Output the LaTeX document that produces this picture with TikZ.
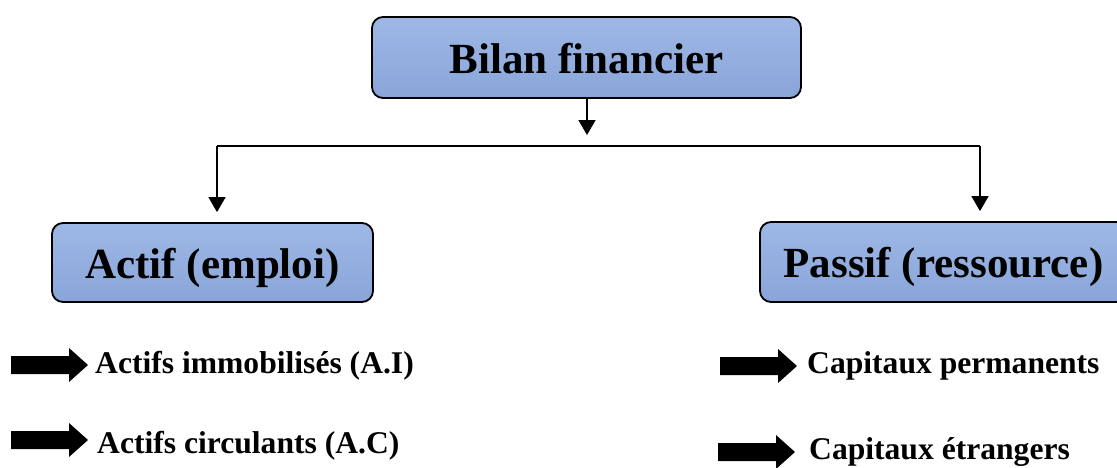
\documentclass[tikz,border=0pt]{standalone}
\usepackage{fontspec}
\setmainfont{Liberation Serif}
\usetikzlibrary{arrows.meta}
\definecolor{boxtop}{RGB}{158,184,229}
\definecolor{boxbot}{RGB}{137,165,217}
\tikzset{
  panel/.style={draw=black, line width=1.8pt, rounded corners=11pt,
    top color=boxtop, bottom color=boxbot, inner sep=0pt,
    font=\fontsize{43}{50}\selectfont\bfseries,
    text height=40pt, text depth=9pt},
  link/.style={line width=1.6pt, -{Triangle[width=17pt,length=15pt]}},
  bar/.style={line width=1.4pt},
  item/.style={anchor=base west, inner sep=0pt,
    font=\fontsize{31.6}{38}\selectfont\bfseries},
  bularrow/.pic={\fill (0,-9) -- (58,-9) -- (58,-17) -- (77,0) -- (58,17)
    -- (58,9) -- (0,9) -- cycle;}
}
\begin{document}
\begin{tikzpicture}[x=1pt,y=-1pt]
  \useasboundingbox (0,0) rectangle (1117,467);
  \clip (0,0) rectangle (1117,467);

  % main boxes
  \node[panel, minimum width=429pt, minimum height=81pt] (bilan) at (586.5,57.5) {Bilan financier};
  \node[panel, minimum width=321pt, minimum height=79pt] (actif) at (212.5,262.5) {Actif (emploi)};
  \node[panel, minimum width=367pt, minimum height=80pt] (passif) at (943.5,262) {Passif (ressource)};

  % connectors
  \coordinate (drop) at (587,135);
  \coordinate (jl) at (217,146);
  \coordinate (jr) at (980,146);
  \draw[link] (bilan.south -| drop) -- (drop);
  \draw[bar] (jl) -- (jr);
  \draw[link, shorten >=10pt] (jl) -- (jl |- actif.north);
  \draw[link, shorten >=10pt] (jr) -- (jr |- passif.north);

  % bullet arrows
  \pic at (11,365) {bularrow};
  \pic at (11,440) {bularrow};
  \pic at (720,366) {bularrow};
  \pic at (718,452) {bularrow};

  % item labels
  \node[item] (ai) at (95,373) {Actifs immobilisés (A.I)};
  \node[item] (ac) at (97,453) {Actifs circulants (A.C)};
  \node[item] (cp) at (807,373) {Capitaux permanents};
  \node[item] (ce) at (809,459) {Capitaux étrangers};
\end{tikzpicture}
\end{document}
